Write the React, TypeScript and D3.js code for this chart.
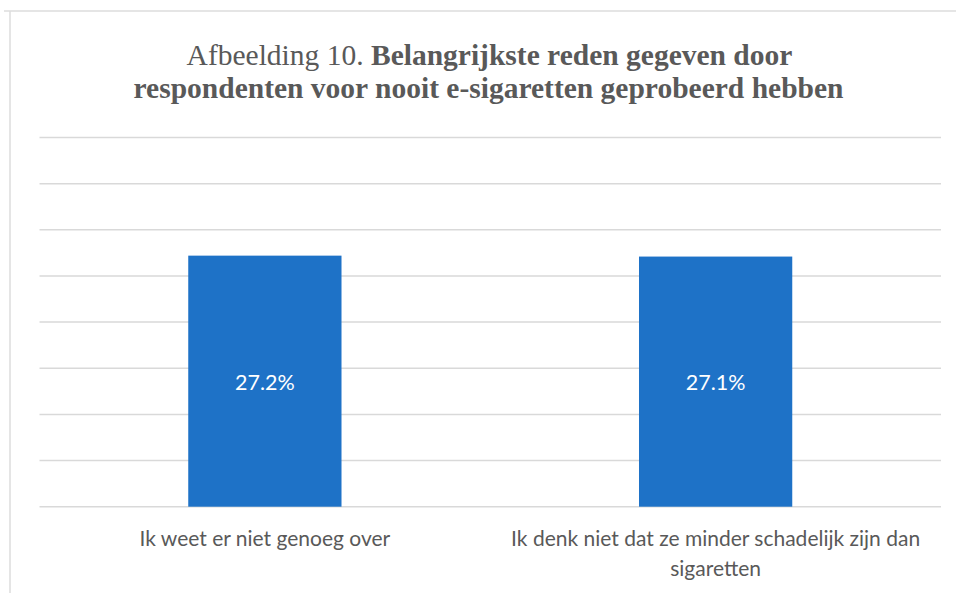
import React from "react";
import * as d3 from "d3";

const categories = ["Ik weet er niet genoeg over", "Ik denk niet dat ze minder schadelijk zijn dan sigaretten"];
const values = [27.2, 27.1];
const yTicks = [0, 5, 10, 15, 20, 25, 30, 35, 40];
const titleRegular = "Afbeelding 10. ";
const titleBold1 = "Belangrijkste reden gegeven door";
const titleBold2 = "respondenten voor nooit e-sigaretten geprobeerd hebben";

const W = 956;
const H = 593;
const plotLeft = 39.5;
const plotRight = 941;
const plotTop = 137.5;
const plotBottom = 506.7;

const labelFont = "Lato, 'Open Sans', sans-serif";
const labelSize = 21;
const dataSize = 21.5;

function wrapLines(text: string, maxW: number, size: number): string[] {
  const canvas = document.createElement("canvas");
  const ctx = canvas.getContext("2d")!;
  ctx.font = `${size}px ${labelFont}`;
  const words = text.split(" ");
  const lines: string[] = [];
  let cur = "";
  for (const w of words) {
    const test = cur ? cur + " " + w : w;
    if (ctx.measureText(test).width > maxW && cur) {
      lines.push(cur);
      cur = w;
    } else cur = test;
  }
  if (cur) lines.push(cur);
  return lines;
}

export default function App() {
  const x = d3
    .scaleBand<string>()
    .domain(categories)
    .range([plotLeft, plotRight])
    .paddingInner(0.66)
    .paddingOuter(0.33);
  const y = d3.scaleLinear().domain([0, 40]).range([plotBottom, plotTop]);
  const fmt = (v: number) => d3.format(".1f")(v) + "%";

  return (
    <svg
      width={W}
      height={H}
      style={{ position: "absolute", left: 0, top: 0, background: "#fff" }}
    >
      <rect x={0} y={0} width={W} height={H} fill="#ffffff" />
      {/* chart frame */}
      <line x1={4} x2={W} y1={11} y2={11} stroke="#dcdcdc" strokeWidth={1.5} />
      <line x1={10} x2={10} y1={11} y2={H} stroke="#dcdcdc" strokeWidth={1.5} />

      {/* title */}
      <text
        x={489.5}
        y={65}
        textAnchor="middle"
        fontFamily="'Liberation Serif', 'Times New Roman', serif"
        fontSize={29.5}
        fill="#595959"
      >
        <tspan>{titleRegular}</tspan>
        <tspan fontWeight="bold">{titleBold1}</tspan>
      </text>
      <text
        x={488.5}
        y={98}
        textAnchor="middle"
        fontFamily="'Liberation Serif', 'Times New Roman', serif"
        fontSize={29.5}
        fontWeight="bold"
        fill="#595959"
      >
        {titleBold2}
      </text>

      {/* gridlines */}
      {yTicks.map((t) => (
        <line
          key={t}
          x1={plotLeft}
          x2={plotRight}
          y1={y(t)}
          y2={y(t)}
          stroke="#d9d9d9"
          strokeWidth={1.5}
        />
      ))}

      {/* bars */}
      {categories.map((c, i) => (
        <rect
          key={c}
          x={x(c)}
          y={y(values[i])}
          width={x.bandwidth()}
          height={y(0) - y(values[i])}
          fill="#1e72c7"
        />
      ))}

      {/* data labels */}
      {categories.map((c, i) => (
        <text
          key={c + "-lbl"}
          x={(x(c) as number) + x.bandwidth() / 2}
          y={(y(values[i]) + y(0)) / 2 + 8.5}
          textAnchor="middle"
          fontFamily={labelFont}
          fontSize={dataSize}
          fill="#ffffff"
        >
          {fmt(values[i])}
        </text>
      ))}

      {/* category labels */}
      {categories.map((c) => {
        const lines = wrapLines(c, x.step() * 0.98, labelSize);
        const cx = (x(c) as number) + x.bandwidth() / 2;
        return (
          <text
            key={c + "-cat"}
            x={cx}
            y={546}
            textAnchor="middle"
            fontFamily={labelFont}
            fontSize={labelSize}
            fill="#595959"
          >
            {lines.map((l, j) => (
              <tspan key={j} x={cx} dy={j === 0 ? 0 : 30}>
                {l}
              </tspan>
            ))}
          </text>
        );
      })}
    </svg>
  );
}
